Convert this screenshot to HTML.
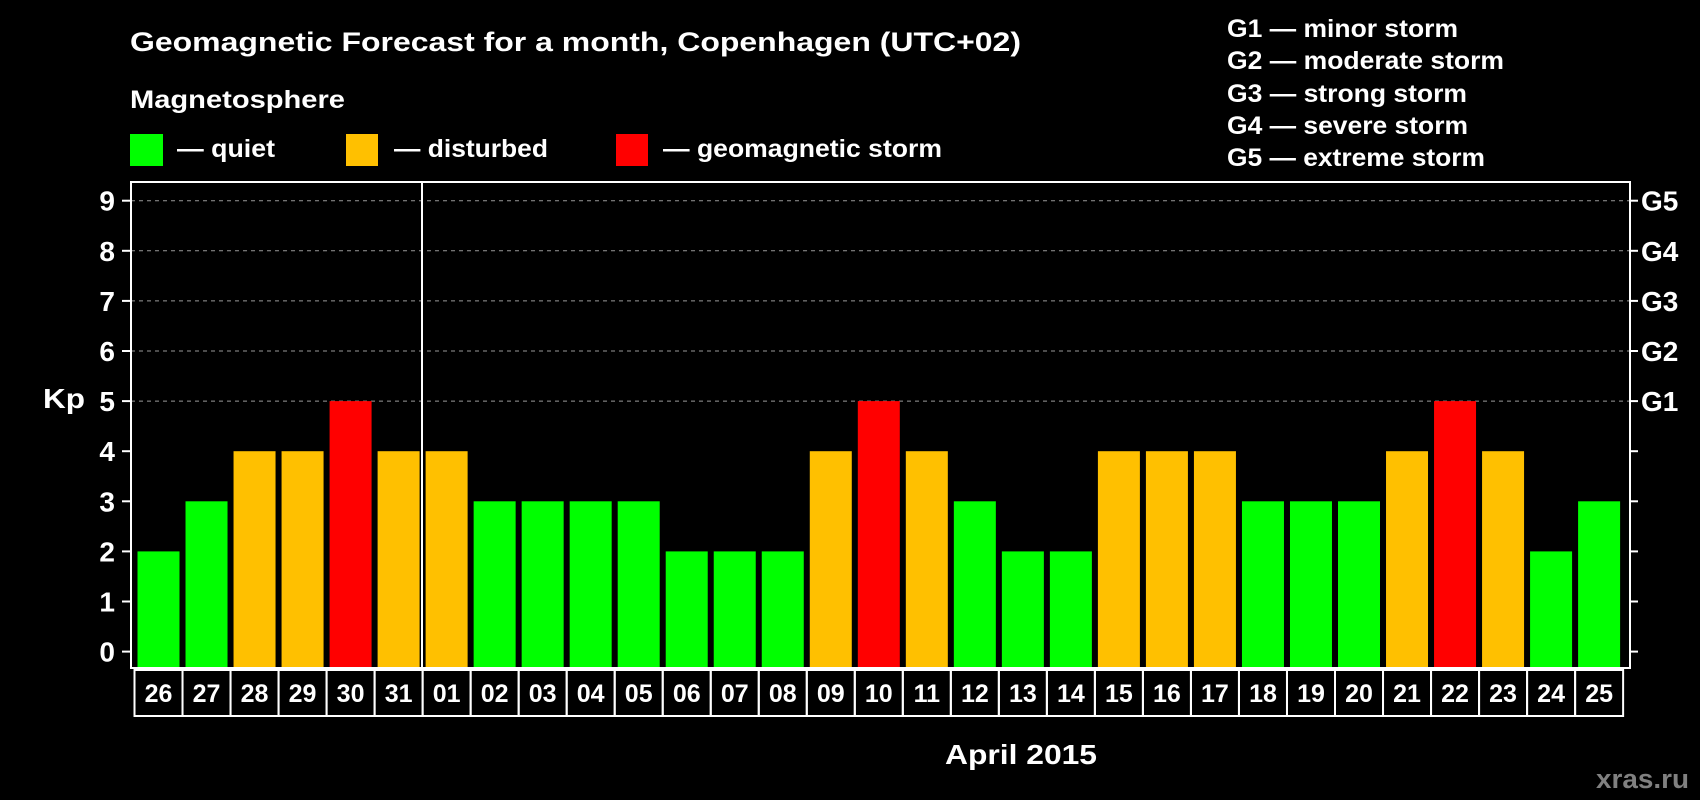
<!DOCTYPE html>
<html><head><meta charset="utf-8"><style>
html,body{margin:0;padding:0;background:#000;}
svg{display:block;font-family:"Liberation Sans",Arial,sans-serif;font-weight:bold;}
</style></head><body>
<svg id="chart" width="1700" height="800" viewBox="0 0 1700 800">
<rect width="1700" height="800" fill="#000"/>
<text x="130" y="51" fill="#fff" font-size="27" textLength="891" lengthAdjust="spacingAndGlyphs">Geomagnetic Forecast for a month, Copenhagen (UTC+02)</text>
<text x="130" y="108" fill="#fff" font-size="25" textLength="215" lengthAdjust="spacingAndGlyphs">Magnetosphere</text>
<g><rect x="130" y="134" width="33" height="32" fill="#00ff00"/><text x="177" y="157" fill="#fff" font-size="25" textLength="98" lengthAdjust="spacingAndGlyphs">— quiet</text></g>
<g><rect x="346" y="134" width="32" height="32" fill="#ffc000"/><text x="394" y="157" fill="#fff" font-size="25" textLength="154" lengthAdjust="spacingAndGlyphs">— disturbed</text></g>
<g><rect x="616" y="134" width="32" height="32" fill="#ff0000"/><text x="663" y="157" fill="#fff" font-size="25" textLength="279" lengthAdjust="spacingAndGlyphs">— geomagnetic storm</text></g>
<g fill="#fff" font-size="25">
<text x="1227" y="37" textLength="231" lengthAdjust="spacingAndGlyphs">G1 — minor storm</text>
<text x="1227" y="69" textLength="277" lengthAdjust="spacingAndGlyphs">G2 — moderate storm</text>
<text x="1227" y="102" textLength="240" lengthAdjust="spacingAndGlyphs">G3 — strong storm</text>
<text x="1227" y="134" textLength="241" lengthAdjust="spacingAndGlyphs">G4 — severe storm</text>
<text x="1227" y="166" textLength="258" lengthAdjust="spacingAndGlyphs">G5 — extreme storm</text>
</g>
<g id="grid"></g>
<g id="bars"></g>
<rect x="131" y="182" width="1499" height="486" fill="none" stroke="#fff" stroke-width="2"/>
<line x1="422" y1="182" x2="422" y2="668" stroke="#fff" stroke-width="2"/>
<g id="yaxis"></g>
<g id="xaxis"></g>
<text x="43" y="408" fill="#fff" font-size="28" textLength="42" lengthAdjust="spacingAndGlyphs">Kp</text>
<text x="945" y="764" fill="#fff" font-size="28" textLength="152" lengthAdjust="spacingAndGlyphs">April 2015</text>
<text x="1596" y="788" fill="#808080" font-size="27" textLength="93" lengthAdjust="spacingAndGlyphs">xras.ru</text>
</svg>
<script>
const days = ["26","27","28","29","30","31","01","02","03","04","05","06","07","08","09","10","11","12","13","14","15","16","17","18","19","20","21","22","23","24","25"];
const kp = [2,3,4,4,5,4,4,3,3,3,3,2,2,2,4,5,4,3,2,2,4,4,4,3,3,3,4,5,4,2,3];
const yTicks = [0,1,2,3,4,5,6,7,8,9];
const gLabels = ["","","","","","G1","G2","G3","G4","G5"];
const NS = "http://www.w3.org/2000/svg";
const y0 = 651.6, unit = 50.1, x0 = 134.5, pitch = 48.02;
function yS(v){ return y0 - v*unit; }
function xS(i){ return x0 + i*pitch; }
function mk(tag, attrs, parent){ const e=document.createElementNS(NS,tag); for(const k in attrs) e.setAttribute(k,attrs[k]); parent.appendChild(e); return e; }
function color(v){ return v>=5?"#ff0000":(v>=4?"#ffc000":"#00ff00"); }
const grid=document.getElementById("grid"), bars=document.getElementById("bars"), ya=document.getElementById("yaxis"), xa=document.getElementById("xaxis");
yTicks.forEach((t,i)=>{
  const y=yS(t);
  if(t>=5){ const g=mk("line",{x1:131,x2:1630,y1:y,y2:y,stroke:"#999","stroke-dasharray":"4,4","stroke-width":1},grid);
    
     }
  const tl=mk("line",{x1:122,x2:131,y1:y,y2:y,stroke:"#fff","stroke-width":2},ya);
  
  
  const tr=mk("line",{x1:1630,x2:1638,y1:y,y2:y,stroke:"#fff","stroke-width":2},ya);
  
  
  const lb=mk("text",{x:115,y:y+10,fill:"#fff","font-size":28,"text-anchor":"end"},ya);
  lb.textContent=t;
  
  
  if(gLabels[i]){ const gl=mk("text",{x:1641,y:y+10,fill:"#fff","font-size":28},ya);
    gl.textContent=gLabels[i];
    
     }
});
kp.forEach((v,i)=>{
  const b=mk("rect",{x:xS(i)+3,y:yS(v),width:42,height:667-yS(v),fill:color(v)},bars);
  
  
  const c=mk("rect",{x:xS(i),y:670,width:pitch,height:46,fill:"none",stroke:"#fff","stroke-width":2},xa);
  
  
  const t=mk("text",{x:xS(i)+pitch/2,y:702,fill:"#fff","font-size":25,"text-anchor":"middle"},xa);
  t.textContent=days[i];
  
  
});
</script>
</body></html>
